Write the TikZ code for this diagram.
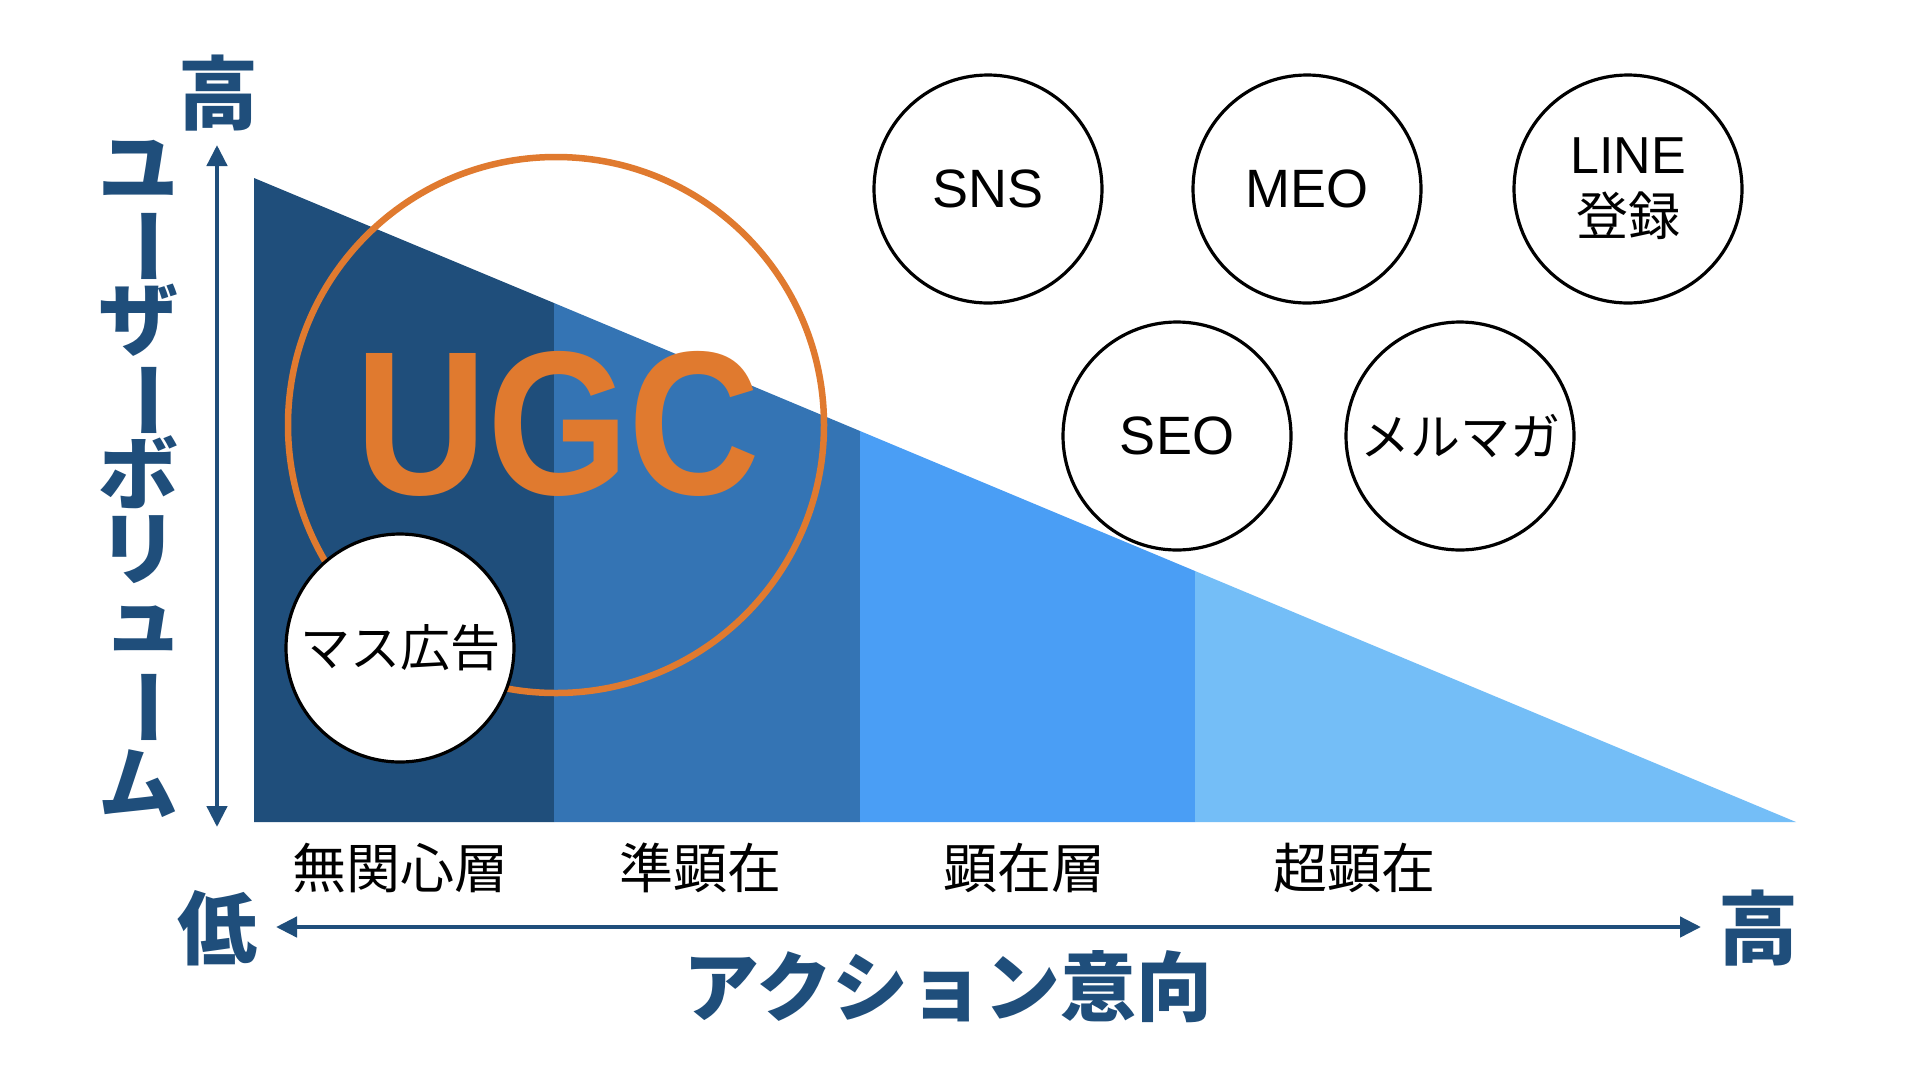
\documentclass[tikz,border=0pt]{standalone}
\usepackage{fontspec}
\setmainfont{Liberation Sans}
\newfontfamily\jp{Noto Sans CJK JP}
\usetikzlibrary{arrows.meta}
\definecolor{navy}{HTML}{1F4E7B}
\definecolor{cA}{HTML}{1F4E7B}
\definecolor{cB}{HTML}{3474B4}
\definecolor{cC}{HTML}{4A9EF5}
\definecolor{cD}{HTML}{74BEF7}
\definecolor{ugc}{HTML}{E07A2F}
\begin{document}
\begin{tikzpicture}[x=1pt,y=-1pt,
  bubble/.style={circle,draw=black,line width=3.2pt,fill=white,minimum size=228pt,inner sep=0pt,align=center},
  bubtext/.style={font=\fontsize{54}{62}\selectfont},
  bubjp/.style={font=\jp\fontsize{50}{62}\selectfont},
  vlab/.style={inner sep=0pt,text=navy,font=\jp\bfseries\fontsize{80}{80}\selectfont},
  axlab/.style={inner sep=0pt,text=navy,font=\jp\bfseries\fontsize{80}{80}\selectfont},
  collab/.style={inner sep=0pt,text=black,font=\jp\fontsize{54}{54}\selectfont},
  axisarrow/.style={draw=navy,line width=4.5pt,{Triangle[length=21pt,width=20pt]}-{Triangle[length=21pt,width=20pt]}}
]
\useasboundingbox (0,0) rectangle (1920,1080);
\fill[white] (0,0) rectangle (1920,1080);
% funnel columns
\fill[cA] (254,178) -- (554,303) -- (554,822) -- (254,822) -- cycle;
\fill[cB] (554,303) -- (860,431) -- (860,822) -- (554,822) -- cycle;
\fill[cC] (860,431) -- (1195,571) -- (1195,822) -- (860,822) -- cycle;
\fill[cD] (1195,571) -- (1796,822) -- (1195,822) -- cycle;
% UGC ring and text
\node[circle,draw=ugc,line width=6.5pt,minimum size=536pt,inner sep=0pt] (ring) at (556,425) {};
\node[inner sep=0pt,text=ugc,font=\bfseries\fontsize{205}{205}\selectfont] (ugctext) at (558,424) {\scalebox{0.89}[1]{UGC}};
% bubbles
\node[bubble,bubjp] (mass) at (400,648) {マス広告};
\node[bubble,bubtext] (sns) at (988,189) {SNS};
\node[bubble,bubtext] (meo) at (1307,189) {MEO};
\node[bubble,font=\fontsize{52}{62}\selectfont] (line) at (1628,189) {LINE\\{\jp 登録}};
\node[bubble,bubtext] (seo) at (1177,436) {SEO};
\node[bubble,bubjp] (mail) at (1460,436) {メルマガ};
% column labels
\node[collab] (l1) at (400,868) {無関心層};
\node[collab] (l2) at (700,868) {準顕在};
\node[collab] (l3) at (1024,868) {顕在層};
\node[collab] (l4) at (1354,868) {超顕在};
% axes
\coordinate (vtop) at (217,145);
\coordinate (vbot) at (217,827);
\coordinate (hleft) at (276,927);
\coordinate (hright) at (1701,927);
\draw[axisarrow] (vtop) -- (vbot);
\draw[axisarrow] (hleft) -- (hright);
\node[axlab] (hiTop) at (218,93) {高};
\node[axlab] (lo) at (217,928) {低};
\node[axlab] (hiRight) at (1758,928) {高};
\node[inner sep=0pt,text=navy,font=\jp\bfseries\fontsize{76}{76}\selectfont] (xlab) at (948,987) {アクション意向};
% vertical label
\node[vlab] (v1) at (138,169) {ユ};
\node[vlab,rotate=-90] (v2) at (138,246) {ー};
\node[vlab] (v3) at (138,320) {ザ};
\node[vlab,rotate=-90] (v4) at (138,400) {ー};
\node[vlab] (v5) at (138,472) {ボ};
\node[vlab] (v6) at (138,550) {リ};
\node[vlab] (v7) at (143,628) {ュ};
\node[vlab,rotate=-90] (v8) at (138,707) {ー};
\node[vlab] (v9) at (138,784) {ム};
\end{tikzpicture}
\end{document}
